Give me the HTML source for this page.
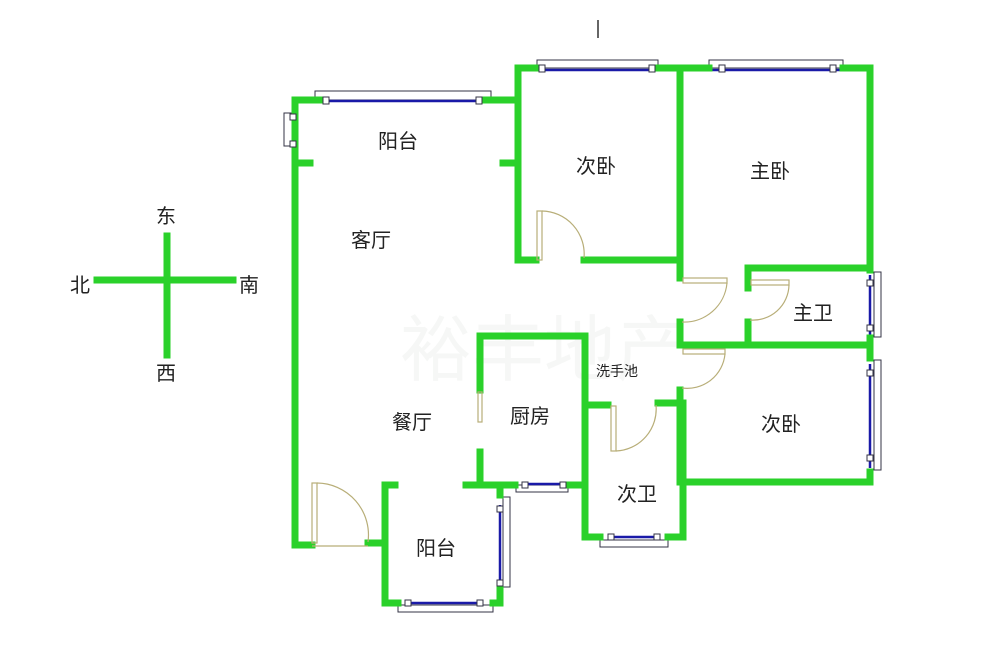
<!DOCTYPE html>
<html><head><meta charset="utf-8"><style>
html,body{margin:0;padding:0;background:#fff;}
svg{display:block}
text{font-family:"Liberation Sans","Noto Sans CJK SC",sans-serif;fill:#222;}
</style></head><body>
<svg width="1000" height="663" viewBox="0 0 1000 663" xmlns="http://www.w3.org/2000/svg">
<rect width="1000" height="663" fill="#fff"/>
<!-- watermark -->
<text x="400" y="375" font-size="72" style="fill:#f6f7f6">裕丰地产</text>
<!-- windows frames -->
<g fill="#fff" stroke="#334" stroke-width="1">
<rect x="315" y="91" width="176" height="9"/>
<rect x="284" y="113" width="8" height="33"/>
<rect x="537" y="60" width="121" height="8"/>
<rect x="709" y="60" width="134" height="8"/>
<rect x="874" y="272" width="7" height="65"/>
<rect x="874" y="360" width="7" height="110"/>
<rect x="516" y="485" width="52" height="7"/>
<rect x="503" y="497" width="7" height="90"/>
<rect x="398" y="605" width="95" height="7"/>
<rect x="600" y="540" width="68" height="7"/>
</g>
<g stroke="#1a1aa8" stroke-width="2.5">
<line x1="323" y1="101" x2="486" y2="101"/>
<line x1="293" y1="118" x2="293" y2="143"/>
<line x1="540" y1="70" x2="655" y2="70"/>
<line x1="712" y1="70" x2="840" y2="70"/>
<line x1="870" y1="275" x2="870" y2="335"/>
<line x1="870" y1="364" x2="870" y2="468"/>
<line x1="525" y1="484" x2="565" y2="484"/>
<line x1="500" y1="505" x2="500" y2="585"/>
<line x1="408" y1="603" x2="482" y2="603"/>
<line x1="610" y1="537" x2="657" y2="537"/>
</g>
<!-- walls -->
<g stroke="#2ad12a" stroke-width="7" fill="none" stroke-linecap="square">
<polyline points="320,100 295,100 295,545 312,545"/>
<line x1="295" y1="163" x2="310" y2="163"/>
<line x1="486" y1="100" x2="518" y2="100"/>
<line x1="503" y1="163" x2="518" y2="163"/>
<polyline points="518,100 518,68 538,68"/>
<line x1="658" y1="68" x2="709" y2="68"/>
<line x1="843" y1="68" x2="870" y2="68"/>
<polyline points="870,68 870,270"/>
<line x1="870" y1="338" x2="870" y2="358"/>
<polyline points="870,472 870,482 680,482"/>
<polyline points="518,100 518,260 536,260"/>
<polyline points="584,260 680,260"/>
<polyline points="680,68 680,278"/>
<polyline points="748,288 748,268 870,268"/>
<polyline points="680,322 680,345 870,345"/>
<line x1="748" y1="322" x2="748" y2="345"/>
<polyline points="680,390 680,482"/>
<polyline points="480,390 480,336 585,336 585,537 600,537"/>
<polyline points="668,537 683,537 683,403 658,403"/>
<line x1="585" y1="405" x2="608" y2="405"/>
<polyline points="480,452 480,485 466,485"/>
<line x1="480" y1="485" x2="515" y2="485"/>
<line x1="568" y1="485" x2="585" y2="485"/>
<polyline points="395,485 385,485 385,603 398,603"/>
<polyline points="493,603 500,603 500,590"/>
<line x1="500" y1="485" x2="500" y2="495"/>
<line x1="368" y1="543" x2="385" y2="543"/>
<line x1="167" y1="236" x2="167" y2="355"/>
<line x1="97" y1="280" x2="233" y2="280"/>
</g>
<!-- window mullions -->
<g fill="#fff" stroke="#334" stroke-width="1">
<rect x="323" y="97" width="6" height="7"/><rect x="476" y="97" width="6" height="7"/>
<rect x="290" y="114" width="6" height="6"/><rect x="290" y="141" width="6" height="6"/>
<rect x="539" y="65" width="6" height="7"/><rect x="649" y="65" width="6" height="7"/>
<rect x="719" y="65" width="6" height="7"/><rect x="830" y="65" width="6" height="7"/>
<rect x="867" y="280" width="6" height="6"/><rect x="867" y="325" width="6" height="6"/>
<rect x="867" y="370" width="6" height="6"/><rect x="867" y="455" width="6" height="6"/>
<rect x="522" y="482" width="6" height="6"/><rect x="560" y="482" width="6" height="6"/>
<rect x="497" y="506" width="6" height="6"/><rect x="497" y="580" width="6" height="6"/>
<rect x="405" y="600" width="6" height="6"/><rect x="477" y="600" width="6" height="6"/>
<rect x="608" y="534" width="6" height="6"/><rect x="654" y="534" width="6" height="6"/>
</g>
<!-- doors -->
<g fill="none" stroke="#b8ae78" stroke-width="1.2">
<rect x="537" y="211" width="5" height="49"/><path d="M542,211 A43,43 0 0 1 584,258"/>
<rect x="683" y="278" width="44" height="5"/><path d="M727,283 A43,43 0 0 1 682,322"/>
<rect x="751" y="280" width="38" height="5"/><path d="M789,285 A36,36 0 0 1 750,320"/>
<rect x="683" y="349" width="42" height="5"/><path d="M725,354 A38,38 0 0 1 682,388"/>
<rect x="611" y="406" width="5" height="45"/><path d="M616,451 A42,42 0 0 0 656,405"/>
<rect x="478" y="392" width="4" height="30"/>
<rect x="312" y="483" width="5" height="60"/><path d="M317,483 A52,52 0 0 1 368,542"/><line x1="312" y1="546" x2="368" y2="546"/>
</g>
<line x1="598" y1="20" x2="598" y2="38" stroke="#333" stroke-width="1.5"/>
<g font-size="20">
<text x="378" y="148">阳台</text>
<text x="576" y="173">次卧</text>
<text x="750" y="178">主卧</text>
<text x="351" y="247">客厅</text>
<text x="793" y="320">主卫</text>
<text x="510" y="423">厨房</text>
<text x="392" y="429">餐厅</text>
<text x="761" y="431">次卧</text>
<text x="617" y="501">次卫</text>
<text x="416" y="555">阳台</text>
<text x="156" y="223">东</text>
<text x="70" y="292">北</text>
<text x="239" y="292">南</text>
<text x="156" y="380">西</text>
</g>
<text x="596" y="376" font-size="14">洗手池</text>
</svg>
</body></html>
